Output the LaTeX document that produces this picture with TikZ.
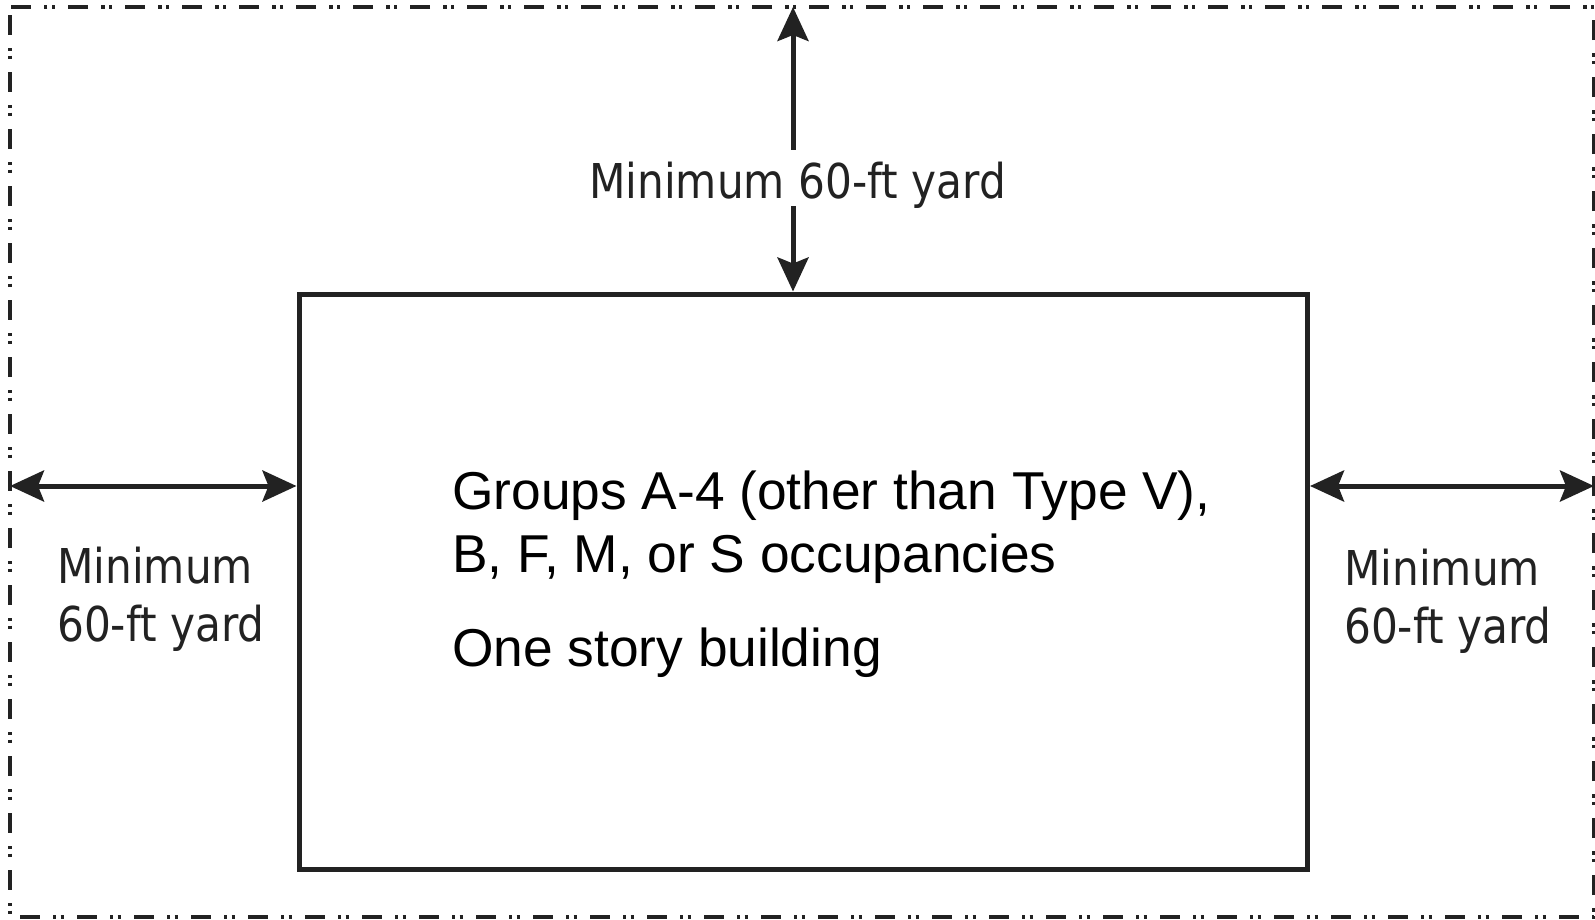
\documentclass[tikz,border=0pt]{standalone}
\usepackage{fontspec}
\setmainfont{Liberation Sans}
\newfontfamily\yardfont[FakeStretch=0.88]{DejaVu Sans}
\usetikzlibrary{arrows.meta}
\definecolor{ink}{HTML}{222222}
\begin{document}
\begin{tikzpicture}[x=1pt,y=-1pt]
        \tikzstyle{lot}=[ink, line width=3.5pt, dash pattern=on 20pt off 13pt on 3pt off 4.5pt on 3.5pt off 13pt, dash phase=49pt];
        \tikzstyle{building}=[draw=ink, line width=5pt, minimum width=1008.5pt, minimum height=575pt, inner sep=0pt];
        \tikzstyle{yard}=[ink, line width=5pt, {Stealth[length=34pt,width=31pt,inset=6pt]}-{Stealth[length=34pt,width=31pt,inset=6pt]}];
        \tikzstyle{yardlabel}=[text=ink, font=\yardfont\fontsize{48}{58}\selectfont, align=left, inner sep=0pt, anchor=base west];
        \tikzstyle{occupancy}=[font=\fontsize{53.3}{63}\selectfont, align=left, inner sep=0pt, anchor=base west];
        \useasboundingbox (0,0) rectangle (1595,919);
        \draw[lot] (10,7) -- (10,917) -- (1594,917) -- (1594,7) -- cycle;
        \node[building] (bldg) at (803.25,581.5) {};
        \coordinate (topedge) at (793,7);
        \coordinate (leftedge) at (10,486);
        \coordinate (rightedge) at (1594,486);
        \draw[yard] (topedge) -- (bldg.north -| topedge);
        \draw[yard] (leftedge) -- (bldg.west |- leftedge);
        \draw[yard] (bldg.east |- rightedge) -- (rightedge);
        % two-line nodes sit on the baseline of their last line
        \node[yardlabel, fill=white, text height=48pt, text depth=8pt] (toplabel) at (589,198) {Minimum 60-ft yard};
        \node[yardlabel] (leftlabel) at (57,641) {Minimum\\60-ft yard};
        \node[yardlabel] (rightlabel) at (1344,643) {Minimum\\60-ft yard};
        \node[occupancy] (groups) at (452,572) {Groups A-4 (other than Type V),\\B, F, M, or S occupancies};
        \node[occupancy] (story) at (452,666) {One story building};
    \end{tikzpicture}
\end{document}
